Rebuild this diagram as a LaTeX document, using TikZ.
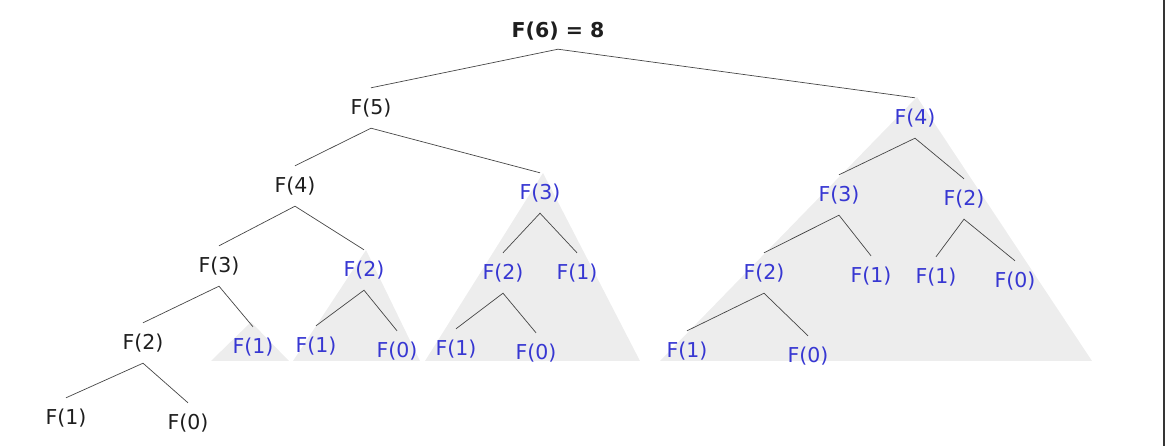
\documentclass[tikz,border=0pt]{standalone}
\usepackage{fontspec}
\setmainfont{DejaVu Sans}
\definecolor{callblue}{RGB}{55,55,210}
\definecolor{memo}{RGB}{237,237,237}
\definecolor{edgegray}{RGB}{70,70,70}
\definecolor{ink}{RGB}{30,30,30}
\tikzset{
  fcall/.style={inner sep=0pt, minimum height=40pt, text=ink,
    font=\fontsize{20.5}{24}\selectfont},
  cached/.style={fcall, text=callblue},
  branch/.style={draw=edgegray, line width=0.7pt},
  memoarea/.style={fill=memo, draw=none},
}
\begin{document}
\begin{tikzpicture}[x=1pt, y=-1pt]
\useasboundingbox (0,0) rectangle (1165,446);

% shaded regions: subtrees whose values are already known
\fill[memoarea] (211,361) -- (251,322) -- (289,361) -- cycle;
\fill[memoarea] (293,361) -- (366,250) -- (420,361) -- cycle;
\fill[memoarea] (425,361) -- (543,173) -- (640,361) -- cycle;
\fill[memoarea] (660,361) -- (917,97) -- (1092,361) -- cycle;

% call tree
\node[fcall, minimum height=36pt, font=\fontsize{20.5}{24}\selectfont\bfseries] (root) at (558,31) {F(6) = 8};
\node[fcall]  (f5)  at (371,108) {F(5)};
\node[cached] (g4)  at (915,118) {F(4)};

\node[fcall]  (f4)  at (295,186) {F(4)};
\node[cached] (h3)  at (540,193) {F(3)};
\node[cached] (g3)  at (839,195) {F(3)};
\node[cached] (g2)  at (964,199) {F(2)};

\node[fcall]  (f3)  at (219,266) {F(3)};
\node[cached] (k2)  at (364,270) {F(2)};
\node[cached] (h2)  at (503,273) {F(2)};
\node[cached] (h1)  at (577,273) {F(1)};
\node[cached] (g2b) at (764,273) {F(2)};
\node[cached] (g1a) at (871,276) {F(1)};
\node[cached] (g1b) at (936,277) {F(1)};
\node[cached] (g0b) at (1015,281) {F(0)};

\node[fcall]  (f2)  at (143,343) {F(2)};
\node[cached] (m1)  at (253,347) {F(1)};
\node[cached] (k1)  at (316,346) {F(1)};
\node[cached] (k0)  at (397,351) {F(0)};
\node[cached] (h1b) at (456,349) {F(1)};
\node[cached] (h0b) at (536,353) {F(0)};
\node[cached] (g1c) at (687,351) {F(1)};
\node[cached] (g0c) at (808,356) {F(0)};

\node[fcall]  (f1)  at (66,418)  {F(1)};
\node[fcall]  (f0)  at (188,423) {F(0)};

% branches
\draw[branch] (f5.north) -- (root.south) -- (g4.north);
\draw[branch] (f4.north) -- (f5.south) -- (h3.north);
\draw[branch] (f3.north) -- (f4.south) -- (k2.north);
\draw[branch] (f2.north) -- (f3.south) -- (m1.north);
\draw[branch] (f1.north) -- (f2.south) -- (f0.north);
\draw[branch] (k1.north) -- (k2.south) -- (k0.north);
\draw[branch] (h2.north) -- (h3.south) -- (h1.north);
\draw[branch] (h1b.north) -- (h2.south) -- (h0b.north);
\draw[branch] (g3.north) -- (g4.south) -- (g2.north);
\draw[branch] (g2b.north) -- (g3.south) -- (g1a.north);
\draw[branch] (g1b.north) -- (g2.south) -- (g0b.north);
\draw[branch] (g1c.north) -- (g2b.south) -- (g0c.north);

% frame edge on the right
\draw[line width=1.6pt, draw=ink!90] (1164.2,0) -- (1164.2,446);
\end{tikzpicture}
\end{document}
